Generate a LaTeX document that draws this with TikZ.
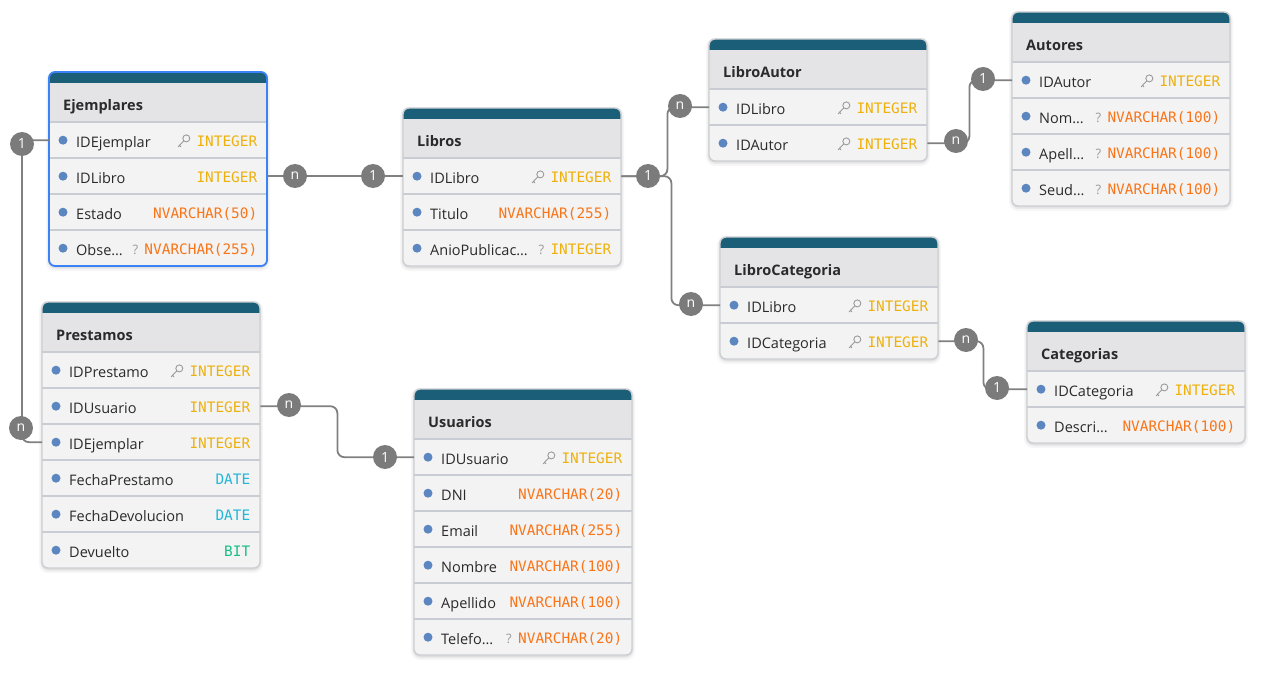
\documentclass[tikz,border=0pt]{standalone}
\usepackage{fontspec}
\setmainfont{Open Sans}
\newfontfamily\typefont{DejaVu Sans Mono}
\usetikzlibrary{calc}

\definecolor{hdrteal}{HTML}{1B5E78}
\definecolor{hdrgray}{HTML}{E4E4E7}
\definecolor{rowfill}{HTML}{F3F3F4}
\definecolor{sepgray}{HTML}{C9CCD2}
\definecolor{cardline}{HTML}{CDCFD3}
\definecolor{selblue}{HTML}{3B82F6}
\definecolor{dotblue}{HTML}{5B86C0}
\definecolor{txtdark}{HTML}{2A2A2A}
\definecolor{cint}{HTML}{EEB10C}
\definecolor{cstr}{HTML}{F97518}
\definecolor{cdate}{HTML}{22B6D8}
\definecolor{cbit}{HTML}{16BE86}
\definecolor{markgray}{HTML}{9A9A9A}
\definecolor{linkgray}{HTML}{808080}
\definecolor{badgegray}{HTML}{7B7B7B}

\tikzset{
  rowbox/.style={rectangle, minimum width=218pt, minimum height=36pt, inner sep=0pt},
  cardbox/.style={rectangle, rounded corners=6pt, fill=rowfill, minimum width=218pt, inner sep=0pt},
  titletext/.style={inner sep=0pt, text=txtdark, font=\fontsize{14.5}{16}\selectfont\bfseries},
  nametext/.style={inner sep=0pt, text=txtdark, font=\fontsize{14.5}{16}\selectfont},
  typetext/.style={inner sep=0pt, font=\fontsize{14.4}{16}\typefont},
  optmark/.style={inner sep=0pt, text=markgray, font=\fontsize{13}{14}\selectfont},
  sepline/.style={draw=sepgray, line width=1.6pt},
  link/.style={draw=linkgray, line width=1.8pt, rounded corners=7pt},
  badge/.style={circle, fill=badgegray, text=white, minimum size=24pt, inner sep=0pt,
    font=\fontsize{14}{15}\selectfont},
  keyglyph/.pic={
    \draw[markgray, line width=0.9pt] (9,-2.8) circle (3.5);
    \draw[markgray, line width=0.9pt, line cap=round] (6.5,-0.3) -- (0.8,5.6);
    \draw[markgray, line width=0.9pt, line cap=round] (2.2,4.2) -- (3.6,5.6);
  }
}

% #1 prefix, #2 x, #3 y, #4 number of rows, #5 title, #6 rows, #7 border style
\newcommand\dbtable[7]{%
  \begin{scope}[shift={(#2,#3)}]
    \pgfmathsetmacro\tblh{50+36*#4}
    % soft drop shadow
    \fill[black, opacity=0.035, rounded corners=9pt] (-3,-1) rectangle (221,\tblh+5);
    \fill[black, opacity=0.05, rounded corners=8pt] (-1.5,0) rectangle (219.5,\tblh+3);
    \fill[black, opacity=0.06, rounded corners=7pt] (-0.5,0.5) rectangle (218.5,\tblh+1.5);
    \node[cardbox, minimum height=\tblh pt, anchor=north west] (#1) at (0,0) {};
    \begin{scope}
      \clip[rounded corners=6pt] (0,0) rectangle (218,\tblh);
      \fill[hdrteal] (0,0) rectangle (218,11);
      \fill[hdrgray] (0,11) rectangle (218,50);
    \end{scope}
    \node[titletext, anchor=base west] (#1-title) at (14,38.5) {#5};
    \foreach \rid/\rname/\rtype/\rcol/\rmk [count=\ri from 0] in {#6} {
      \pgfmathsetmacro\ry{50+36*\ri}
      \node[rowbox, anchor=north west] (#1-\rid) at (0,\ry) {};
      \draw[sepline] (0,\ry) -- (218,\ry);
      \fill[dotblue] ($(#1-\rid.west)+(14,0)$) circle (4.5);
      \node[nametext, anchor=base west] (#1-\rid-n) at ($(#1-\rid.west)+(27,7)$) {\rname};
      \node[typetext, text=\rcol, anchor=base east] (#1-\rid-t) at ($(#1-\rid.east)+(-10,6.5)$) {\rtype};
      \ifnum\rmk=1\relax
        \pic at ($(#1-\rid-t.west |- #1-\rid.center)+(-19,1)$) {keyglyph};
      \fi
      \ifnum\rmk=2\relax
        \node[optmark, anchor=base east] (#1-\rid-q) at ($(#1-\rid-t.base west)+(-6,0)$) {?};
      \fi
    }
    \draw[#7, rounded corners=6pt] (0,0) rectangle (218,\tblh);
  \end{scope}%
}

\begin{document}
\begin{tikzpicture}[x=1pt, y=-1pt]
  \fill[white] (0,0) rectangle (1266,679);
  \useasboundingbox (0,0) rectangle (1266,679);

  \dbtable{ej}{49}{72}{4}{Ejemplares}{%
    IDEjemplar/IDEjemplar/INTEGER/cint/1,
    IDLibro/IDLibro/INTEGER/cint/0,
    Estado/Estado/{NVARCHAR(50)}/cstr/0,
    Observaciones/Obse…/{NVARCHAR(255)}/cstr/2}{draw=selblue, line width=1.8pt}

  \dbtable{li}{403}{108}{3}{Libros}{%
    IDLibro/IDLibro/INTEGER/cint/1,
    Titulo/Titulo/{NVARCHAR(255)}/cstr/0,
    AnioPublicacion/AnioPublicac…/INTEGER/cint/2}{draw=cardline, line width=1.4pt}

  \dbtable{la}{709}{39}{2}{LibroAutor}{%
    IDLibro/IDLibro/INTEGER/cint/1,
    IDAutor/IDAutor/INTEGER/cint/1}{draw=cardline, line width=1.4pt}

  \dbtable{au}{1012}{12}{4}{Autores}{%
    IDAutor/IDAutor/INTEGER/cint/1,
    Nombre/Nom…/{NVARCHAR(100)}/cstr/2,
    Apellido/Apell…/{NVARCHAR(100)}/cstr/2,
    Seudonimo/Seud…/{NVARCHAR(100)}/cstr/2}{draw=cardline, line width=1.4pt}

  \dbtable{lc}{720}{237}{2}{LibroCategoria}{%
    IDLibro/IDLibro/INTEGER/cint/1,
    IDCategoria/IDCategoria/INTEGER/cint/1}{draw=cardline, line width=1.4pt}

  \dbtable{ca}{1027}{321}{2}{Categorias}{%
    IDCategoria/IDCategoria/INTEGER/cint/1,
    Descripcion/Descri…/{NVARCHAR(100)}/cstr/0}{draw=cardline, line width=1.4pt}

  \dbtable{pr}{42}{302}{6}{Prestamos}{%
    IDPrestamo/IDPrestamo/INTEGER/cint/1,
    IDUsuario/IDUsuario/INTEGER/cint/0,
    IDEjemplar/IDEjemplar/INTEGER/cint/0,
    FechaPrestamo/FechaPrestamo/DATE/cdate/0,
    FechaDevolucion/FechaDevolucion/DATE/cdate/0,
    Devuelto/Devuelto/BIT/cbit/0}{draw=cardline, line width=1.4pt}

  \dbtable{us}{414}{389}{6}{Usuarios}{%
    IDUsuario/IDUsuario/INTEGER/cint/1,
    DNI/DNI/{NVARCHAR(20)}/cstr/0,
    Email/Email/{NVARCHAR(255)}/cstr/0,
    Nombre/Nombre/{NVARCHAR(100)}/cstr/0,
    Apellido/Apellido/{NVARCHAR(100)}/cstr/0,
    Telefono/Telefo…/{NVARCHAR(20)}/cstr/2}{draw=cardline, line width=1.4pt}

  % relationships
  \draw[link] (ej-IDLibro.east) -- (li-IDLibro.west);
  \draw[link] (ej-IDEjemplar.west) -- ++(-27,0) |- (pr-IDEjemplar.west);
  \draw[link] (pr-IDUsuario.east) -- ++(77,0) |- (us-IDUsuario.west);
  \draw[link] (li-IDLibro.east) -- ++(46,0) |- (la-IDLibro.west);
  \draw[link] (li-IDLibro.east) -- ++(50,0) |- (lc-IDLibro.west);
  \draw[link] (la-IDAutor.east) -- ++(42,0) |- (au-IDAutor.west);
  \draw[link] (lc-IDCategoria.east) -- ++(45,0) |- (ca-IDCategoria.west);

  % cardinality badges
  \node[badge] (b-ejli-n) at (295,176) {n};
  \node[badge] (b-ejli-1) at (373,176) {1};
  \node[badge] (b-ejpr-1) at (22,144) {1};
  \node[badge] (b-ejpr-n) at (21,428) {n};
  \node[badge] (b-prus-n) at (289,405) {n};
  \node[badge] (b-prus-1) at (385,457) {1};
  \node[badge] (b-li-1) at (648,176) {1};
  \node[badge] (b-la-n) at (680,106) {n};
  \node[badge] (b-lc-n) at (691,304) {n};
  \node[badge] (b-laau-n) at (956,141) {n};
  \node[badge] (b-laau-1) at (983,79) {1};
  \node[badge] (b-lcca-n) at (966,340) {n};
  \node[badge] (b-lcca-1) at (997,388) {1};
\end{tikzpicture}
\end{document}
